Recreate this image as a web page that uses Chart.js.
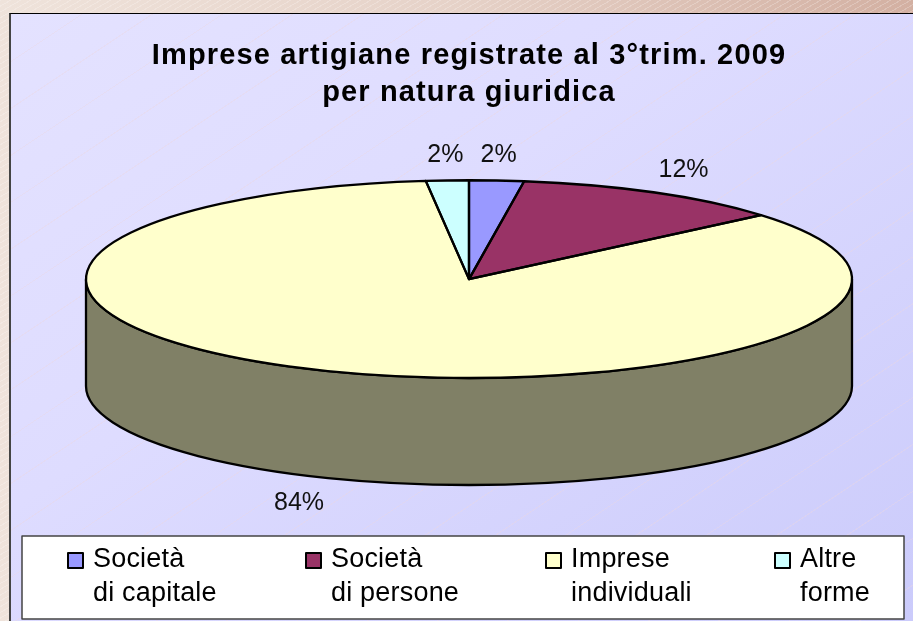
<!DOCTYPE html>
<html lang="it">
<head>
<meta charset="utf-8">
<title>Imprese artigiane</title>
<script src="https://cdn.jsdelivr.net/npm/chart.js@4"></script>
<style>
html,body{margin:0;padding:0;width:913px;height:621px;overflow:hidden}
body{position:relative;background:
 repeating-linear-gradient(150deg,rgba(255,255,255,.22) 0 1px,rgba(255,255,255,0) 1px 5px),
 linear-gradient(90deg,#EFE3DB 0%,#E6D2C8 50%,#D3B0A2 100%)}
#panel{position:absolute;left:9px;top:13px;width:904px;height:608px;box-sizing:border-box;
 border-left:2px solid #444;border-top:1.5px solid #000;background:
 repeating-linear-gradient(146.3deg,rgba(235,215,225,.38) 0 1px,rgba(255,255,255,0) 1px 39px),
 linear-gradient(145deg,#E4E2FF 0%,#DEDCFF 40%,#CBCBFB 100%)}
canvas{position:absolute;left:0;top:0}
</style>
</head>
<body>
<div id="panel"></div>
<canvas id="c" width="913" height="621"></canvas>
<script>
const titleLines = ['Imprese artigiane registrate al 3°trim. 2009', 'per natura giuridica'];
const categories = ['Società\ndi capitale', 'Società\ndi persone', 'Imprese\nindividuali', 'Altre\nforme'];
const shares = [2.3, 11.5, 84.4, 1.8];
const colors = ['#9999FF', '#993366', '#FFFFCC', '#CCFFFF'];

const DEPTH = 107;
const FONT = '"Liberation Sans", Arial, sans-serif';
const labelNudge = [[2, -25], [29, -23], [-29, 132], [-2, -25]];
const legendSpots = [68, 306, 546, 775];

function geo(chart) {
  const a = chart.chartArea;
  return {cx: (a.left + a.right) / 2, cy: (a.top + a.bottom) / 2,
          rx: (a.right - a.left) / 2, ry: (a.bottom - a.top) / 2};
}
function dim(hex) {
  const n = parseInt(hex.slice(1), 16);
  return 'rgb(' + [(n >> 16) & 255, (n >> 8) & 255, n & 255].map(v => Math.round(v * 0.5)).join(',') + ')';
}

const pie3d = {
  id: 'pie3d',
  beforeDraw(chart) { chart.ctx.letterSpacing = '1.15px'; },
  beforeDatasetsDraw(chart) {
    const ctx = chart.ctx, g = geo(chart);
    ctx.letterSpacing = '0px';
    ctx.lineWidth = 2.3; ctx.strokeStyle = '#000'; ctx.lineJoin = 'round';
    chart.getDatasetMeta(0).data.forEach((arc, i) => {
      const a0 = Math.max(arc.startAngle, 0), a1 = Math.min(arc.endAngle, Math.PI);
      if (a1 <= a0) return;
      ctx.beginPath();
      ctx.ellipse(g.cx, g.cy, g.rx, g.ry, 0, a0, a1);
      ctx.ellipse(g.cx, g.cy + DEPTH, g.rx, g.ry, 0, a1, a0, true);
      ctx.closePath();
      ctx.fillStyle = dim(colors[i]);
      ctx.fill(); ctx.stroke();
    });
    ctx.save();
    ctx.translate(g.cx, g.cy); ctx.scale(g.rx / g.ry, 1); ctx.translate(-g.cx, -g.cy);
  },
  afterDatasetsDraw(chart) {
    const ctx = chart.ctx, g = geo(chart);
    ctx.restore();
    ctx.lineWidth = 2.3; ctx.strokeStyle = '#000'; ctx.lineJoin = 'round';
    chart.getDatasetMeta(0).data.forEach(arc => {
      ctx.beginPath();
      ctx.moveTo(g.cx, g.cy);
      ctx.ellipse(g.cx, g.cy, g.rx, g.ry, 0, arc.startAngle, arc.endAngle);
      ctx.closePath();
      ctx.stroke();
    });
  },
  afterDraw(chart) {
    const ctx = chart.ctx, g = geo(chart);
    ctx.save();
    // percentage labels
    ctx.font = '25px ' + FONT; ctx.fillStyle = '#111';
    ctx.textAlign = 'center'; ctx.textBaseline = 'middle';
    chart.getDatasetMeta(0).data.forEach((arc, i) => {
      const m = (arc.startAngle + arc.endAngle) / 2;
      ctx.fillText(Math.round(shares[i]) + '%',
        g.cx + g.rx * Math.cos(m) + labelNudge[i][0],
        g.cy + g.ry * Math.sin(m) + labelNudge[i][1]);
    });
    // legend
    ctx.fillStyle = '#fff'; ctx.strokeStyle = '#444'; ctx.lineWidth = 1.5;
    ctx.fillRect(22, 536, 882, 83); ctx.strokeRect(22, 536, 882, 83);
    ctx.textAlign = 'left'; ctx.textBaseline = 'alphabetic';
    ctx.letterSpacing = '0.2px';
    categories.forEach((label, i) => {
      const x = legendSpots[i];
      ctx.fillStyle = colors[i]; ctx.strokeStyle = '#000'; ctx.lineWidth = 2;
      ctx.fillRect(x, 553, 15, 15); ctx.strokeRect(x, 553, 15, 15);
      ctx.fillStyle = '#000'; ctx.font = '27px ' + FONT;
      label.split('\n').forEach((t, j) => ctx.fillText(t, x + 25, 567 + j * 34));
    });
    ctx.restore();
  }
};

new Chart(document.getElementById('c'), {
  type: 'pie',
  data: {
    labels: categories.map(s => s.replace('\n', ' ')),
    datasets: [{data: shares, backgroundColor: colors, borderWidth: 0}]
  },
  options: {
    responsive: false,
    animation: false,
    events: [],
    layout: {padding: {left: 86, right: 61, top: 0, bottom: 243}},
    plugins: {
      legend: {display: false},
      tooltip: {enabled: false},
      title: {
        display: true,
        text: titleLines,
        color: '#000',
        align: 'center',
        font: {family: FONT, size: 29, weight: 'bold', lineHeight: 1.28},
        padding: {top: 37, bottom: 69}
      }
    }
  },
  plugins: [pie3d]
});
</script>
</body>
</html>
